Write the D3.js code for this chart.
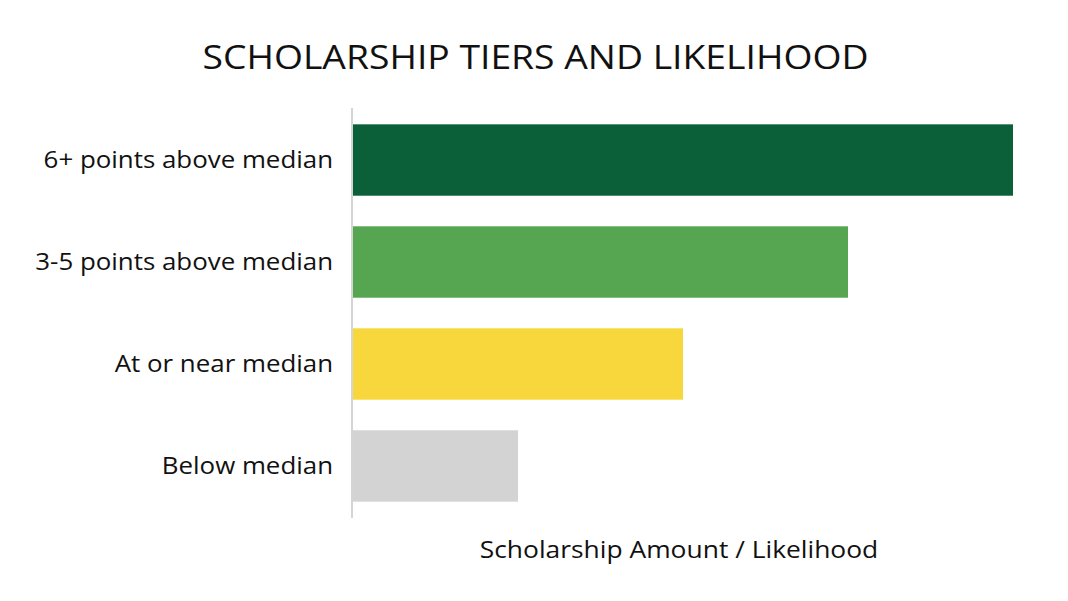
<!DOCTYPE html>
<html><head><meta charset="utf-8">
<script src="https://cdn.jsdelivr.net/npm/d3@7"></script>
<style>body{margin:0;background:#fff;} svg{display:block;}</style>
</head><body>
<script>
const categories = ["6+ points above median","3-5 points above median","At or near median","Below median"];
const values = [4,3,2,1];
const colors = ["#0b603a","#56a550","#f8d73c","#d3d3d3"];
const titleText = "SCHOLARSHIP TIERS AND LIKELIHOOD";
const xLabel = "Scholarship Amount / Likelihood";

const W=1068,H=601;
const svg=d3.select("body").append("svg").attr("width",W).attr("height",H);
const font="'Open Sans', sans-serif";
const x=d3.scaleLinear().domain([0,4]).range([353,1013]);
const y=d3.scaleBand().domain(categories).range([108,518]).paddingInner(0.3).paddingOuter(0.16);

function stretch(sel,f){
  sel.each(function(){
    const w=this.getComputedTextLength();
    d3.select(this).attr("textLength",w*f).attr("lengthAdjust","spacingAndGlyphs");
  });
}

const t=svg.append("text").attr("x",535.5).attr("y",69).attr("text-anchor","middle")
  .attr("font-family",font).attr("font-size",33).attr("fill","#111").text(titleText);
stretch(t,1.13);

svg.selectAll("rect.bar").data(values).join("rect").attr("class","bar")
  .attr("x",x(0)).attr("y",(d,i)=>y(categories[i]))
  .attr("width",d=>x(d)-x(0)).attr("height",y.bandwidth())
  .attr("fill",(d,i)=>colors[i]);

const ax=svg.append("g").attr("transform","translate(352,0)").call(d3.axisLeft(y).tickSize(0).tickPadding(19));
ax.select(".domain").attr("stroke","#d5d5d5").attr("stroke-width",2).attr("d","M0,108V518");
ax.selectAll("text").attr("font-family",font).attr("font-size",24).attr("fill","#111");
stretch(ax.selectAll("text"),1.078);

const xl=svg.append("text").attr("x",679).attr("y",558).attr("text-anchor","middle")
  .attr("font-family",font).attr("font-size",24).attr("fill","#111").text(xLabel);
stretch(xl,1.10);
</script>
</body></html>
